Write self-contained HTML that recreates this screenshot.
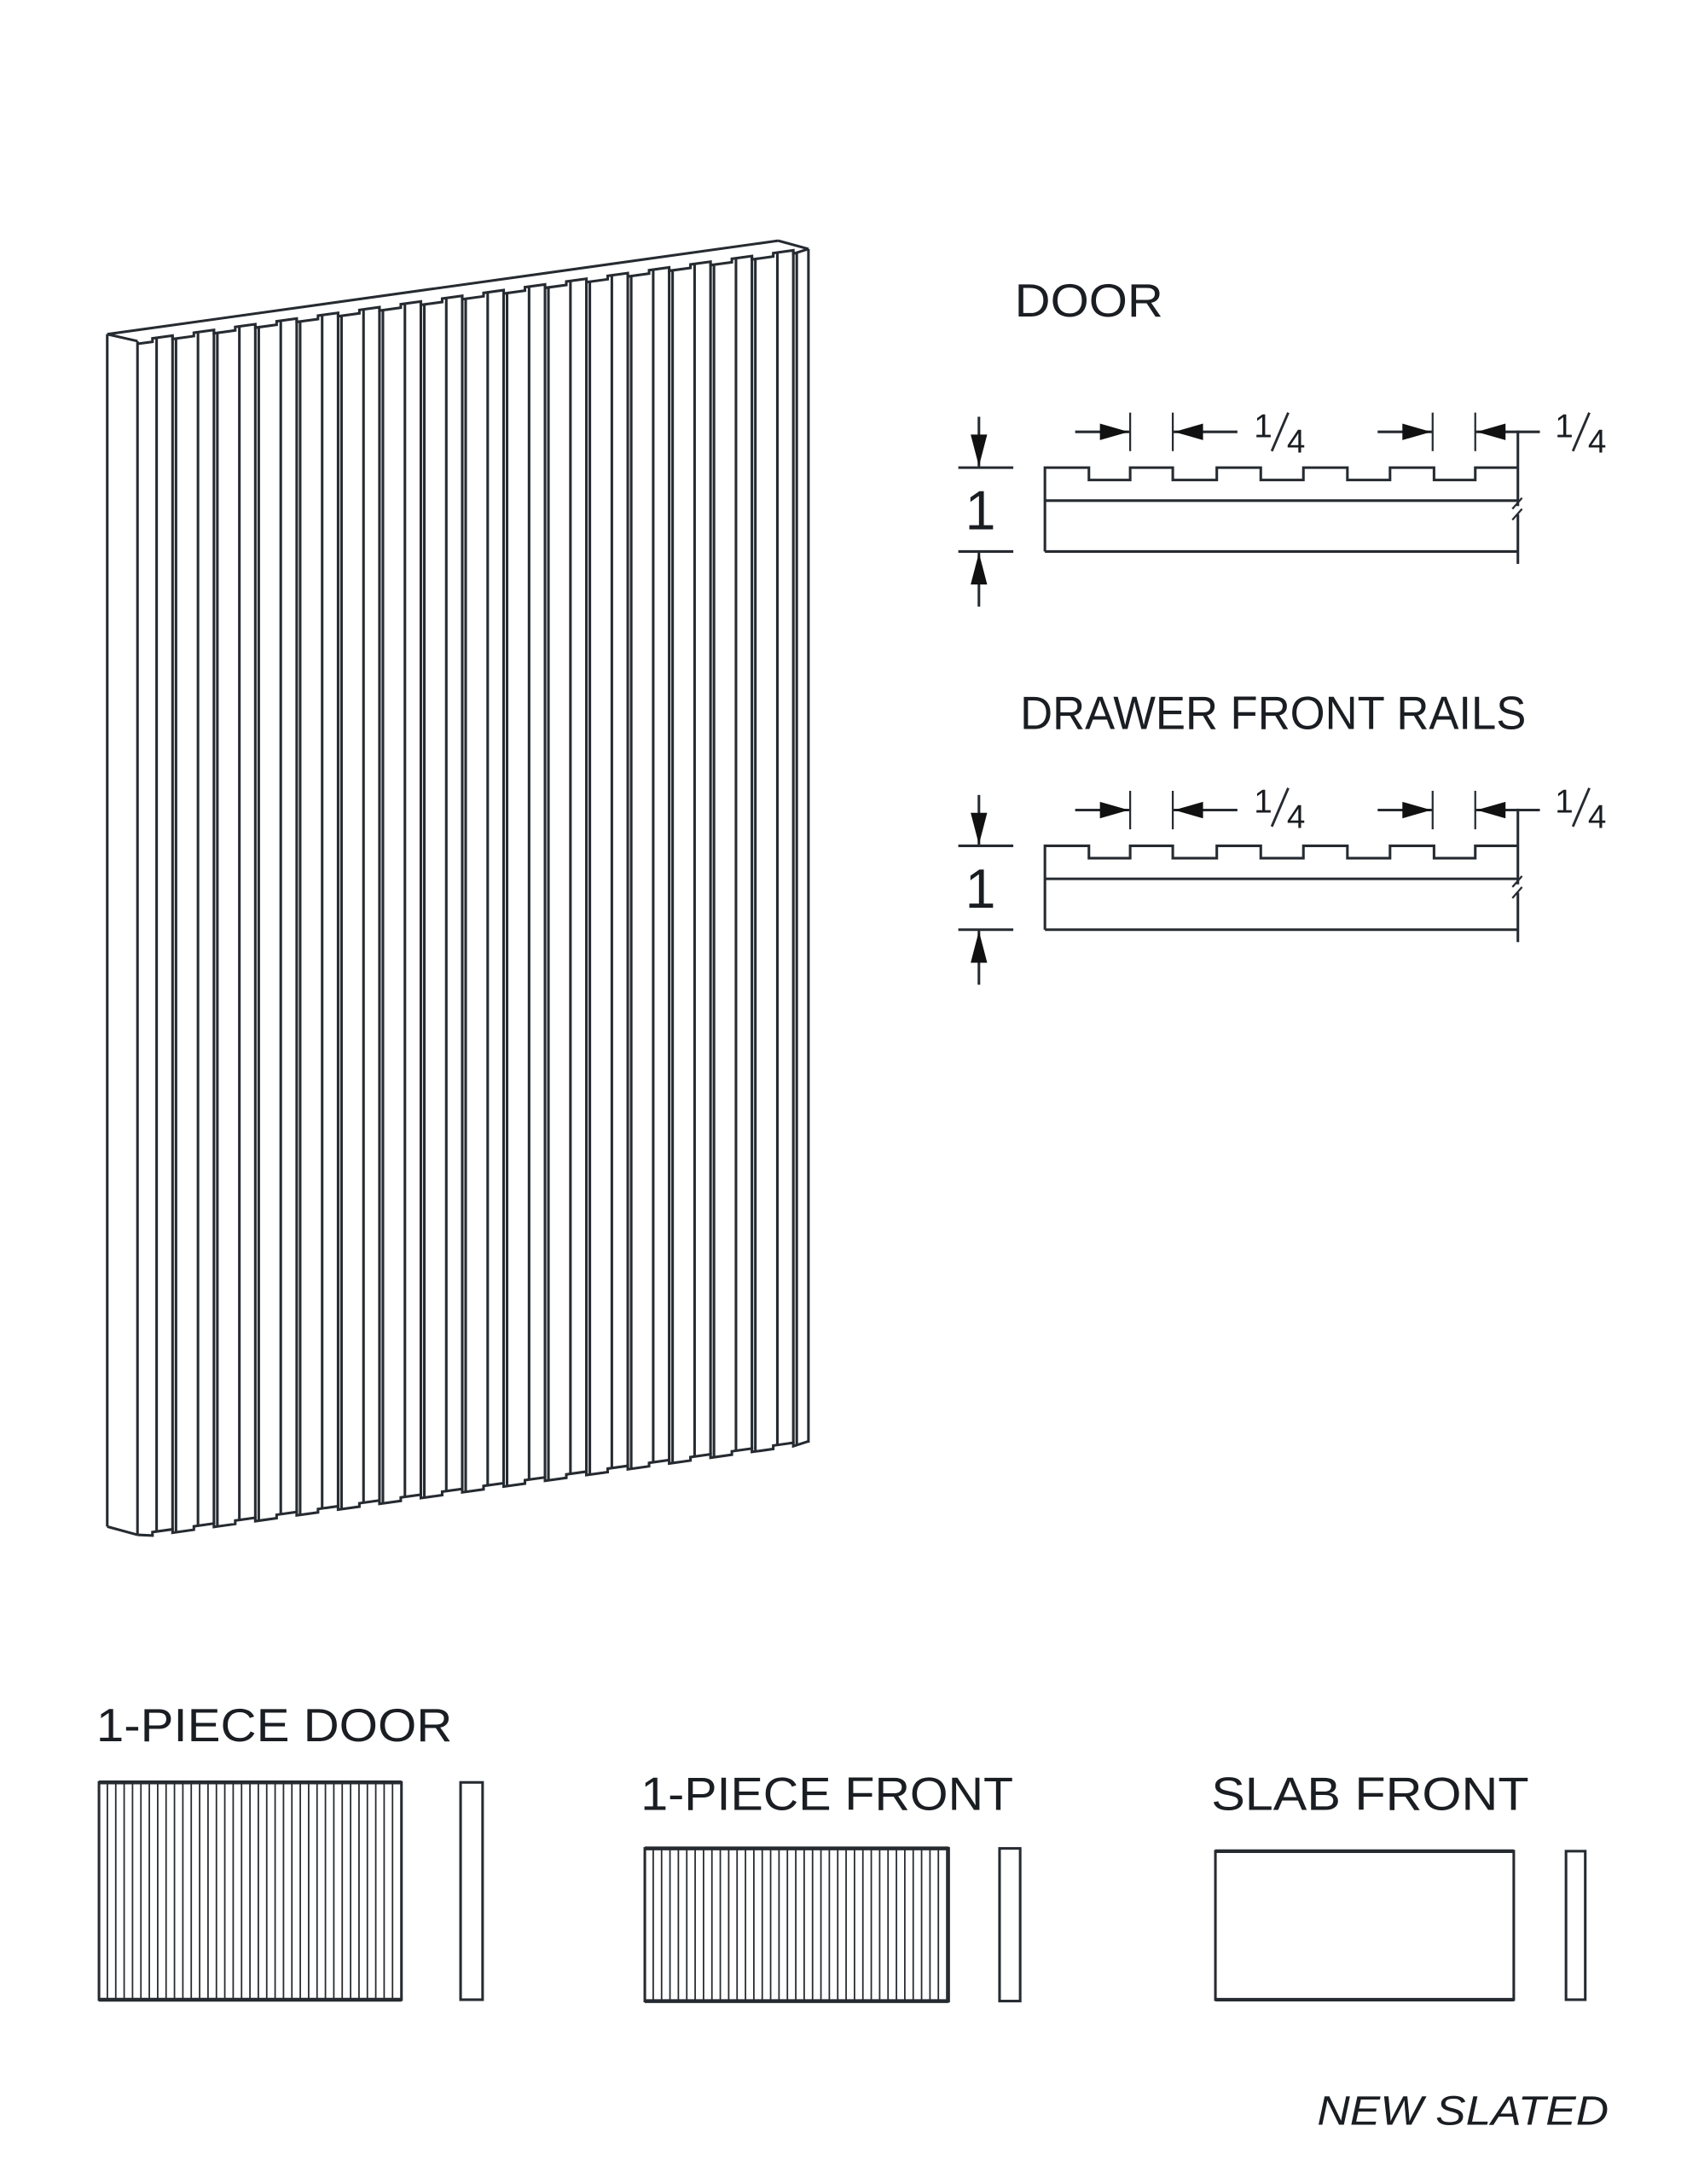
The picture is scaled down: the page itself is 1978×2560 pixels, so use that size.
<!DOCTYPE html>
<html><head><meta charset="utf-8"><style>
html,body{margin:0;padding:0;background:#fff}
svg{display:block}
text{font-family:"Liberation Sans",sans-serif;fill:#1a1d22}
</style></head><body>
<svg id="s" width="1978" height="2560" viewBox="0 0 1227 1588" xmlns="http://www.w3.org/2000/svg">
<g id="g" fill="none" stroke="#262b31" stroke-width="1.9" stroke-linejoin="miter">
</g>
<g font-size="34">
<text x="738" y="230" textLength="108" lengthAdjust="spacingAndGlyphs">DOOR</text>
<text x="742" y="530" textLength="368" lengthAdjust="spacingAndGlyphs">DRAWER FRONT RAILS</text>
<text x="70" y="1266" textLength="259" lengthAdjust="spacingAndGlyphs">1-PIECE DOOR</text>
<text x="466" y="1316" textLength="271" lengthAdjust="spacingAndGlyphs">1-PIECE FRONT</text>
<text x="881" y="1316" textLength="231" lengthAdjust="spacingAndGlyphs">SLAB FRONT</text>
<text x="958" y="1545" font-size="30" font-style="italic" textLength="212" lengthAdjust="spacingAndGlyphs">NEW SLATED</text>
<text x="702" y="385" font-size="40">1</text>
<text x="702" y="660" font-size="40">1</text>
</g>
</svg>
<script>
(function(){
var g=document.getElementById('g'),NS='http://www.w3.org/2000/svg';
function L(x1,y1,x2,y2,w){var e=document.createElementNS(NS,'line');e.setAttribute('x1',x1);e.setAttribute('y1',y1);e.setAttribute('x2',x2);e.setAttribute('y2',y2);if(w)e.setAttribute('stroke-width',w);g.appendChild(e);}
function P(pts,fill,w){var e=document.createElementNS(NS,'polyline');e.setAttribute('points',pts.map(function(p){return p.join(',')}).join(' '));if(fill){e.setAttribute('fill',fill);e.setAttribute('stroke','none');}if(w)e.setAttribute('stroke-width',w);g.appendChild(e);}
function R(x,y,w,h,sw){var e=document.createElementNS(NS,'rect');e.setAttribute('x',x);e.setAttribute('y',y);e.setAttribute('width',w);e.setAttribute('height',h);if(sw)e.setAttribute('stroke-width',sw);g.appendChild(e);}
function yt(x){return 248-(x-100)*67/488;}
function yb(x){return 1116-(x-100)*68/488;}
L(78,243,566,175);L(78,243,100,248);L(566,175,588,181);
L(78,243,78,1110);L(78,1110,100,1116);
L(100,248,100,1116);L(588,181,588,1049);
var per=30.1,tp=[[100,yt(100)+2]],bt=[[100,yb(100)]];
for(var k=0;k<16;k++){
 var s=113.9+per*k, d1=125.5+per*k, d2=128+per*k;
 var st=s-3;
 tp.push([st,yt(st)+2]);tp.push([st,yt(st)-0.5]);
 tp.push([d1,yt(d1)-0.5]);tp.push([d1,yt(d1)+2]);
 bt.push([st,yb(st)+2]);bt.push([st,yb(st)-0.5]);
 bt.push([d1,yb(d1)-0.5]);bt.push([d1,yb(d1)+2]);
 L(s,yt(s),s,yb(s));L(d1,yt(d1),d1,yb(d1));L(d2,yt(d2)+2,d2,yb(d2)+2);
}
tp.push([588,yt(588)]);bt.push([588,yb(588)]);
P(tp);P(bt);
function section(ty){
 L(712,ty-37,712,ty);P([[706,ty-24],[718,ty-24],[712,ty-1]],'#111');
 L(697,ty,737,ty);
 var by=ty+61;L(697,by,737,by);
 L(712,by,712,by+40);P([[706,by+24],[718,by+24],[712,by+1]],'#111');
 var pts=[[760,ty+61],[760,ty]];
 var notches=[[792,822],[853,885],[917,948],[980,1011],[1043,1073]];
 notches.forEach(function(n){pts.push([n[0],ty]);pts.push([n[0],ty+9]);pts.push([n[1],ty+9]);pts.push([n[1],ty]);});
 pts.push([1104,ty]);
 P(pts);
 L(760,ty+24,1104,ty+24);L(760,ty+61,1104,ty+61);
 L(1104,ty-27,1104,ty+28);L(1104,ty+34,1104,ty+70);
 L(1100,ty+30,1107,ty+22,1.4);L(1100,ty+38,1107,ty+30,1.4);
 var ay=ty-26;
 [[822,853],[1042,1073]].forEach(function(p){
  L(p[0],ay-14,p[0],ay+14,1.4);L(p[1],ay-14,p[1],ay+14,1.4);
  L(p[0]-40,ay,p[0],ay);P([[p[0]-22,ay-6],[p[0]-22,ay+6],[p[0]-1,ay]],'#111');
  L(p[1],ay,p[1]+47,ay);P([[p[1]+22,ay-6],[p[1]+22,ay+6],[p[1]+1,ay]],'#111');
 });
}
section(340);section(615);
var sv=document.getElementById('s');
function T(x,y,t,fs){var e=document.createElementNS(NS,'text');e.setAttribute('x',x);e.setAttribute('y',y);e.setAttribute('font-size',fs);e.textContent=t;sv.appendChild(e);}
function frac(x,y){
 T(x,y+4,'1',24);
 L(x+25,y-14,x+13,y+14,1.8);
 T(x+24,y+15,'4',24);
}
[314,587].forEach(function(y){frac(912,y);frac(1131,y);});
function fluted(x,y,w,h,step){R(x,y,w,h);L(x,y,x+w,y,2.8);L(x,y+h,x+w,y+h,2.8);for(var xx=x+step;xx<x+w-1;xx+=step)L(xx,y,xx,y+h,1.1);}
fluted(72,1296,220,158,6.1);R(335,1296,16,158);
fluted(469,1344,221,111,6.1);R(727,1344,15,111);
R(884,1346,217,108);L(884,1346,1101,1346,2.6);L(884,1454,1101,1454,2.6);R(1139,1346,14,108);
})();
</script>
</body></html>
